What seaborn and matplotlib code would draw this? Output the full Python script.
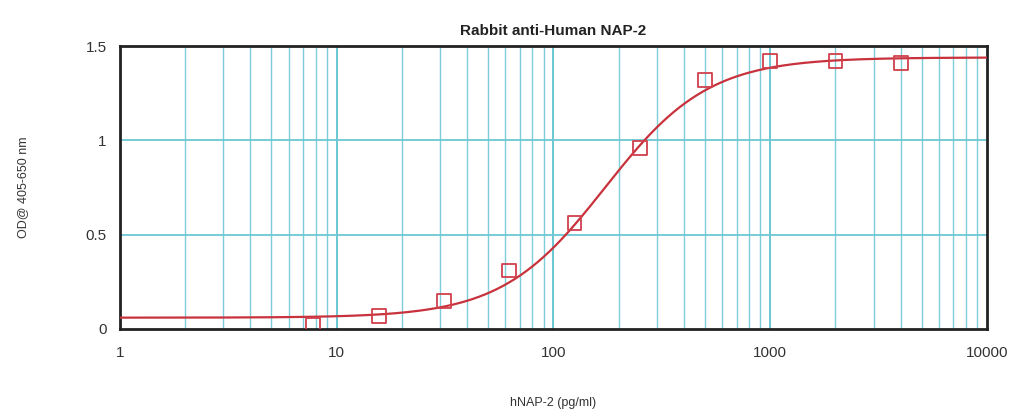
import numpy as np
import pandas as pd
import matplotlib
matplotlib.use("Agg")
import matplotlib.pyplot as plt
import seaborn as sns
from matplotlib.ticker import LogLocator, MultipleLocator, FixedLocator

# standard curve points
conc = [7.8, 15.6, 31.25, 62.5, 125, 250, 500, 1000, 2000, 4000]
od = [0.02, 0.07, 0.15, 0.31, 0.56, 0.96, 1.32, 1.42, 1.42, 1.41]

# 4-parameter logistic fit (bottom, top, ec50, hill) estimated from the drawn curve
fit_bottom = 0.06
fit_top = 1.44
fit_ec50 = 173.0
fit_hill = 1.82

x_ticks = [1, 10, 100, 1000, 10000]
x_labels = ["1", "10", "100", "1000", "10000"]
y_ticks = [0, 0.5, 1, 1.5]
y_labels = ["0", "0.5", "1", "1.5"]

sns.set_style("white")
plt.rcParams['font.family'] = ['Liberation Sans', 'DejaVu Sans']

points = pd.DataFrame({"conc": conc, "od": od})
xs = np.logspace(0, 4, 300)
curve = pd.DataFrame({
    "conc": xs,
    "od": fit_top + (fit_bottom - fit_top) / (1 + (xs / fit_ec50) ** fit_hill),
})

fig = plt.figure(figsize=(10.2, 4.12), dpi=100)
ax = fig.add_axes([0.1176, 0.2015, 0.85, 0.6865])
ax.set_xscale("log")
ax.set_xlim(1, 10000)
ax.set_ylim(0, 1.5)

# grid: every log decade subdivision vertically, 0.5 steps horizontally
grid_col = "#7ccfda"
for dec in [1, 10, 100, 1000]:
    for m in range(2, 10):
        ax.axvline(dec * m, color=grid_col, lw=1.0, zorder=0)
for dec in [10, 100, 1000]:
    ax.axvline(dec, color="#5fc3d0", lw=1.3, zorder=0)
for yv in [0.5, 1.0]:
    ax.axhline(yv, color="#6cc8d2", lw=1.3, zorder=0)

sns.lineplot(data=curve, x="conc", y="od", ax=ax, color="#c8323c", lw=1.6, zorder=3)
sns.scatterplot(data=points, x="conc", y="od", ax=ax, marker="s", s=100,
                facecolor="none", edgecolor="#d0404c", linewidth=1.3, zorder=4)

ax.xaxis.set_major_locator(FixedLocator(x_ticks))
ax.set_xticklabels(x_labels)
ax.xaxis.set_minor_locator(LogLocator(base=10, subs=np.arange(2, 10)))
ax.xaxis.set_minor_formatter(plt.NullFormatter())
ax.yaxis.set_major_locator(FixedLocator(y_ticks))
ax.set_yticklabels(y_labels)
ax.yaxis.set_minor_locator(MultipleLocator(0.1))

ax.tick_params(axis="both", which="major", direction="out", length=6, width=1,
               labelsize=11, color="#555555", labelcolor="#333333")
ax.tick_params(axis="both", which="minor", direction="out", length=3, width=1,
               color="#555555")
ax.tick_params(axis="x", which="major", pad=6)
for s in ax.spines.values():
    s.set_color("#222222")
    s.set_linewidth(2)

ax.set_title("Rabbit anti-Human NAP-2", fontsize=11, fontweight="bold",
             color="#222222", pad=8)
ax.set_xlabel("hNAP-2 (pg/ml)", fontsize=9, color="#333333", labelpad=27)
ax.set_ylabel("OD@ 405-650 nm", fontsize=9, color="#333333", labelpad=41)

fig.savefig("out.png", dpi=100, facecolor="white")
